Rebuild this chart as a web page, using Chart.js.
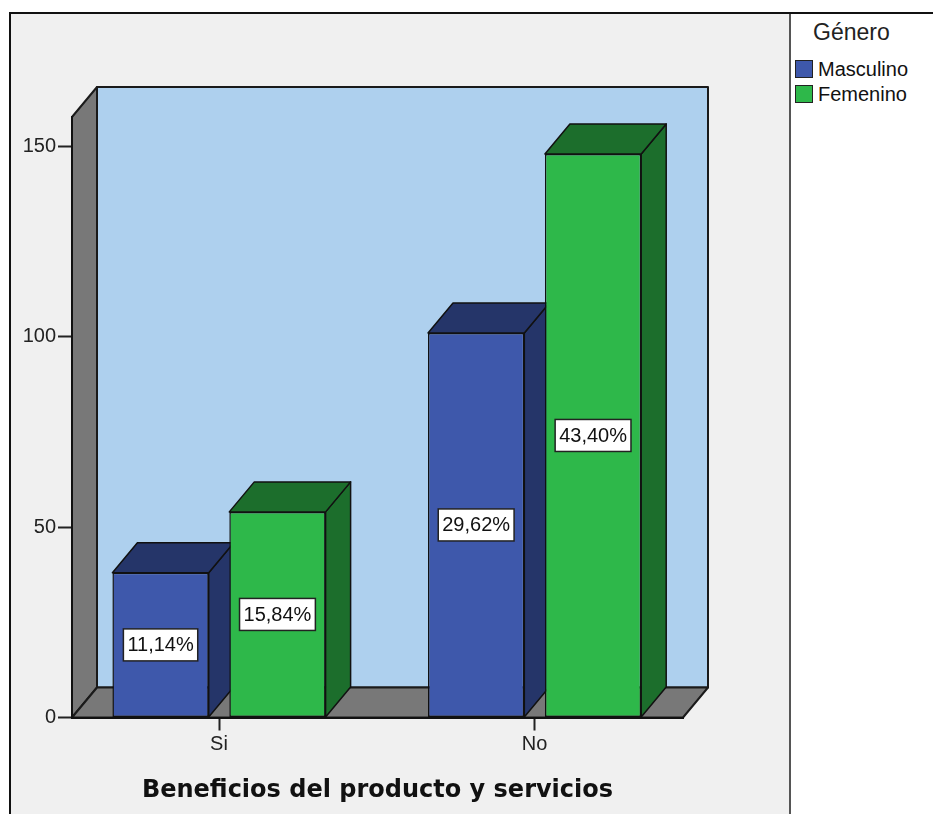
<!DOCTYPE html>
<html>
<head>
<meta charset="utf-8">
<script src="https://cdn.jsdelivr.net/npm/chart.js@4.4.1/dist/chart.umd.min.js"></script>
<style>
  body { margin: 0; width: 933px; height: 814px; overflow: hidden; background: #fff; font-family: "Liberation Sans", Arial, sans-serif; }
  #frame { position: absolute; left: 9px; top: 12px; width: 940px; height: 820px; border-top: 2px solid #111; border-left: 2px solid #111; background: #f0f0f0; }
  #legend { position: absolute; left: 789px; top: 14px; width: 160px; height: 820px; background: #fff; border-left: 2px solid #555; }
  #legend .title { position: absolute; left: 22px; top: 5px; font-size: 23px; color: #222; }
  #legend .item { position: absolute; left: 4px; height: 20px; font-size: 20px; line-height: 20px; color: #111; }
  #legend .sw { display: inline-block; width: 16px; height: 16px; border: 1px solid #222; vertical-align: top; margin-top: 1px; margin-right: 5px; }
  canvas { position: absolute; left: 0; top: 0; }
</style>
</head>
<body>
<div id="frame"></div>
<div id="legend"></div>
<canvas id="chart" width="790" height="814"></canvas>
<script>
const CATEGORIES = ["Si", "No"];
const SERIES = ["Masculino", "Femenino"];
const MASCULINO = [38, 101];
const FEMENINO = [54, 148];
const PCT_MASCULINO = ["11,14%", "29,62%"];
const PCT_FEMENINO = ["15,84%", "43,40%"];
const Y_TICKS = [0, 50, 100, 150];

const FRONT = ["#3e58ab", "#2eb84a"];
const DARK = ["#253569", "#1c6e2c"];
const DX = 25, DY = 30;

// legend panel
const legend = document.getElementById("legend");
legend.innerHTML = '<div class="title">Género</div>';
SERIES.forEach((s, i) => {
    const item = document.createElement("div");
    item.className = "item";
    item.style.top = (45 + i * 25) + "px";
    item.innerHTML = '<span class="sw" style="background:' + FRONT[i] + '"></span>' + s;
    legend.append(item);
});

function poly(ctx, pts, fill) {
    ctx.beginPath();
    ctx.moveTo(pts[0][0], pts[0][1]);
    for (let i = 1; i < pts.length; i++) ctx.lineTo(pts[i][0], pts[i][1]);
    ctx.closePath();
    ctx.fillStyle = fill;
    ctx.fill();
    ctx.stroke();
}

const box3d = {
    id: "box3d",
    beforeDraw(chart) {
        const {ctx, chartArea: a, scales: {y}} = chart;
        const bottom = y.getPixelForValue(0);
        ctx.save();
        ctx.lineWidth = 2;
        ctx.strokeStyle = "#1a1a1a";
        ctx.lineJoin = "round";
        poly(ctx, [[a.left + DX, a.top - DY], [a.right + DX, a.top - DY], [a.right + DX, bottom - DY], [a.left + DX, bottom - DY]], "#aed0ee");
        poly(ctx, [[a.left, a.top], [a.left + DX, a.top - DY], [a.left + DX, bottom - DY], [a.left, bottom]], "#787878");
        poly(ctx, [[a.left, bottom], [a.left + DX, bottom - DY], [a.right + DX, bottom - DY], [a.right, bottom]], "#787878");
        ctx.restore();
    },
    beforeDatasetsDraw(chart) {
        const ctx = chart.ctx;
        ctx.save();
        ctx.lineWidth = 1.5;
        ctx.strokeStyle = "#111";
        ctx.lineJoin = "round";
        chart.data.datasets.forEach((ds, di) => {
            chart.getDatasetMeta(di).data.forEach(bar => {
                const l = bar.x - bar.width / 2, r = bar.x + bar.width / 2;
                poly(ctx, [[r, bar.y], [r + DX, bar.y - DY], [r + DX, bar.base - DY], [r, bar.base]], DARK[di]);
                poly(ctx, [[l, bar.y], [l + DX, bar.y - DY], [r + DX, bar.y - DY], [r, bar.y]], DARK[di]);
            });
        });
        ctx.restore();
    },
    afterDatasetsDraw(chart) {
        const ctx = chart.ctx;
        const pct = [PCT_MASCULINO, PCT_FEMENINO];
        ctx.save();
        ctx.font = '20px "Liberation Sans"';
        ctx.textAlign = "center";
        ctx.textBaseline = "middle";
        chart.data.datasets.forEach((ds, di) => {
            chart.getDatasetMeta(di).data.forEach((bar, i) => {
                const txt = pct[di][i];
                const w = ctx.measureText(txt).width + 8, h = 32;
                const cy = (bar.y + bar.base) / 2;
                ctx.fillStyle = "#fff";
                ctx.fillRect(bar.x - w / 2, cy - h / 2, w, h);
                ctx.lineWidth = 1.5;
                ctx.strokeStyle = "#222";
                ctx.strokeRect(bar.x - w / 2, cy - h / 2, w, h);
                ctx.fillStyle = "#111";
                ctx.fillText(txt, bar.x, cy + 1);
            });
        });
        ctx.restore();
    }
};

const tickFont = {family: "Liberation Sans", size: 20};

new Chart(document.getElementById("chart"), {
    type: "bar",
    data: {
        datasets: [
            {label: SERIES[0], data: MASCULINO.map((v, i) => ({x: i, y: v})), backgroundColor: FRONT[0]},
            {label: SERIES[1], data: FEMENINO.map((v, i) => ({x: i, y: v})), backgroundColor: FRONT[1]}
        ]
    },
    options: {
        responsive: false,
        animation: false,
        layout: {padding: {top: 117, right: 107, left: 0, bottom: 0}},
        datasets: {
            bar: {categoryPercentage: 0.7408, barPercentage: 0.8238, borderColor: "#111", borderWidth: 1.5, borderSkipped: false}
        },
        plugins: {legend: {display: false}, tooltip: {enabled: false}},
        scales: {
            x: {
                type: "linear",
                bounds: "data",
                offset: false,
                min: -0.4658,
                max: 1.4702,
                afterBuildTicks: s => { s.ticks = CATEGORIES.map((c, i) => ({value: i})); },
                afterFit: s => { s.height = 96.5; },
                grid: {offset: false, drawOnChartArea: false, tickLength: 13, tickWidth: 2, tickColor: "#222"},
                border: {color: "#111", width: 2},
                ticks: {callback: v => CATEGORIES[v], font: tickFont, color: "#222", padding: 2, maxRotation: 0, autoSkip: false},
                title: {display: true, text: "Beneficios del producto y servicios", color: "#111",
                        font: {family: "DejaVu Sans", size: 24, weight: "bold"}, padding: {top: 0, bottom: 9}}
            },
            y: {
                bounds: "data",
                min: 0,
                max: 157.7,
                afterBuildTicks: s => { s.ticks = Y_TICKS.map(v => ({value: v})); },
                afterFit: s => { s.width = 72; },
                grid: {drawOnChartArea: false, tickLength: 14, tickWidth: 2, tickColor: "#222"},
                border: {color: "#111", width: 2},
                ticks: {font: tickFont, color: "#222", padding: 2}
            }
        }
    },
    plugins: [box3d]
});
</script>
</body>
</html>
